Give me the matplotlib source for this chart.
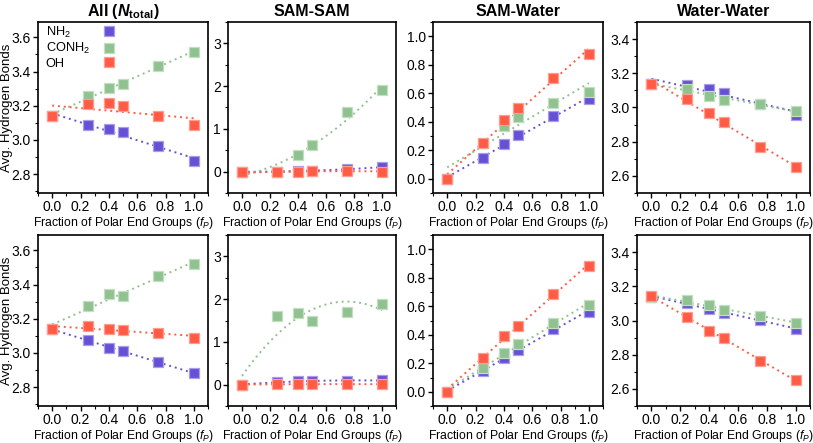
import numpy as np
import matplotlib
matplotlib.use("Agg")
import matplotlib.pyplot as plt
from matplotlib.ticker import MultipleLocator

plt.rcParams['font.family'] = ['Liberation Sans', 'DejaVu Sans']
plt.rcParams['mathtext.fontset'] = 'custom'
plt.rcParams['mathtext.rm'] = 'Liberation Sans'
plt.rcParams['mathtext.it'] = 'Liberation Sans:italic'
plt.rcParams['mathtext.bf'] = 'Liberation Sans:bold'
plt.rcParams['mathtext.bfit'] = 'Liberation Sans:bold:italic'

# fraction of polar end groups
fp = [0.0, 0.25, 0.4, 0.5, 0.75, 1.0]

series_names = ['NH$_2$', 'CONH$_2$', 'OH']
colors = ['#6651d6', '#8fc28f', '#ff5b45']
edge_colors = ['#a99de8', '#c2dfc2', '#ff9e90']

titles = [r'All ($\mathbfit{N}_{\mathbf{total}}$)', 'SAM-SAM', 'SAM-Water', 'Water-Water']

# top row
all_top_nh2 = [3.14, 3.089, 3.063, 3.044, 2.962, 2.878]
all_top_conh2 = [3.14, 3.255, 3.303, 3.329, 3.432, 3.514]
all_top_oh = [3.138, 3.21, 3.214, 3.20, 3.143, 3.087]

ss_top_nh2 = [0.0, 0.0, 0.01, 0.02, 0.07, 0.10]
ss_top_conh2 = [0.0, 0.0, 0.39, 0.625, 1.40, 1.906]
ss_top_oh = [-0.02, -0.02, 0.0, 0.01, 0.02, 0.0]

sw_top_nh2 = [0.0, 0.148, 0.244, 0.307, 0.438, 0.56]
sw_top_conh2 = [0.0, 0.25, 0.37, 0.433, 0.532, 0.609]
sw_top_oh = [0.0, 0.25, 0.41, 0.499, 0.707, 0.878]

ww_top_nh2 = [3.14, 3.134, 3.11, 3.087, 3.023, 2.959]
ww_top_conh2 = [3.14, 3.109, 3.068, 3.045, 3.02, 2.98]
ww_top_oh = [3.14, 3.051, 2.967, 2.915, 2.77, 2.652]

# bottom row
all_bot_nh2 = [3.14, 3.077, 3.028, 3.009, 2.946, 2.884]
all_bot_conh2 = [3.14, 3.274, 3.346, 3.336, 3.448, 3.518]
all_bot_oh = [3.141, 3.155, 3.141, 3.135, 3.118, 3.089]

ss_bot_nh2 = [0.0, 0.06, 0.08, 0.08, 0.09, 0.10]
ss_bot_conh2 = [0.0, 1.60, 1.68, 1.50, 1.71, 1.89]
ss_bot_oh = [0.0, 0.01, 0.01, 0.01, 0.01, 0.01]

sw_bot_nh2 = [0.0, 0.146, 0.24, 0.291, 0.437, 0.563]
sw_bot_conh2 = [0.0, 0.169, 0.275, 0.333, 0.479, 0.608]
sw_bot_oh = [0.0, 0.24, 0.392, 0.462, 0.685, 0.88]

ww_bot_nh2 = [3.14, 3.10, 3.068, 3.045, 3.004, 2.951]
ww_bot_conh2 = [3.14, 3.117, 3.088, 3.064, 3.029, 2.986]
ww_bot_oh = [3.142, 3.023, 2.937, 2.896, 2.766, 2.653]

rows = [
    [(all_top_nh2, all_top_conh2, all_top_oh), (ss_top_nh2, ss_top_conh2, ss_top_oh),
     (sw_top_nh2, sw_top_conh2, sw_top_oh), (ww_top_nh2, ww_top_conh2, ww_top_oh)],
    [(all_bot_nh2, all_bot_conh2, all_bot_oh), (ss_bot_nh2, ss_bot_conh2, ss_bot_oh),
     (sw_bot_nh2, sw_bot_conh2, sw_bot_oh), (ww_bot_nh2, ww_bot_conh2, ww_bot_oh)],
]

# panel settings: ylim, major, minor, fit degree
ylims = [(2.69, 3.69), (-0.5, 3.5), (-0.1, 1.1), (2.5, 3.5)]
ymajor = [0.2, 1.0, 0.2, 0.2]
yminor = [0.1, 0.5, 0.1, 0.1]
fit_deg = [1, 2, 1, 1]

W, H = 813, 443
fig = plt.figure(figsize=(W / 100, H / 100), dpi=100)

col_px = [(38, 208), (228, 396), (433, 603), (637, 810)]
row_px = [(22, 193), (235, 406)]

xfit = np.linspace(0, 1, 100)
legend = None

for r, (top, bot) in enumerate(row_px):
    for c, (left, right) in enumerate(col_px):
        ax = fig.add_axes([left / W, 1 - bot / H, (right - left) / W, (bot - top) / H])
        for k, ys in enumerate(rows[r][c]):
            coef = np.polyfit(fp, ys, fit_deg[c])
            ax.plot(xfit, np.polyval(coef, xfit), color=colors[k], linestyle=(0, (1, 2)),
                    linewidth=1.4, zorder=2 + k)
            ax.plot(fp, ys, 's', color=colors[k], markersize=6.8, markeredgewidth=0.9,
                    markeredgecolor=edge_colors[k], label=series_names[k], zorder=5 + k)
        ax.set_xlim(-0.1, 1.1)
        ax.set_ylim(*ylims[c])
        ax.xaxis.set_major_locator(MultipleLocator(0.2))
        ax.xaxis.set_minor_locator(MultipleLocator(0.1))
        ax.yaxis.set_major_locator(MultipleLocator(ymajor[c]))
        ax.yaxis.set_minor_locator(MultipleLocator(yminor[c]))
        if c == 1:
            ax.yaxis.set_major_formatter(plt.FormatStrFormatter('%d'))
        else:
            ax.yaxis.set_major_formatter(plt.FormatStrFormatter('%.1f'))
        ax.xaxis.set_major_formatter(plt.FormatStrFormatter('%.1f'))
        ax.tick_params(which='major', direction='out', length=3.5, width=1, labelsize=10, pad=1.5,
                       top=False, right=False)
        ax.tick_params(which='minor', direction='out', length=2, width=0.8, top=False, right=False)
        for sp in ax.spines.values():
            sp.set_linewidth(1.2)
        ax.set_xlabel('Fraction of Polar End Groups ($f_P$)', fontsize=8.8, labelpad=1)
        if c == 0:
            ax.set_ylabel('Avg. Hydrogen Bonds', fontsize=9.5)
            ax.yaxis.set_label_coords(-0.145, 0.5)
        if r == 0:
            ax.set_title(titles[c], fontsize=11.5, fontweight='bold', pad=4)
            if c == 0:
                legend = ax.legend(loc='upper left', bbox_to_anchor=(0.045, 0.985),
                                   markerfirst=False, frameon=False, fontsize=9.2,
                                   handlelength=1.0, handletextpad=1.0, labelspacing=0.12,
                                   borderaxespad=0, borderpad=0, markerscale=1.15)

# left-align legend texts while keeping the squares in one column
fig.canvas.draw()
renderer = fig.canvas.get_renderer()
text_w = [t.get_window_extent(renderer).width for t in legend.get_texts()]
legend_rows = legend._legend_handle_box.get_children()[0].get_children()
for row, w in zip(legend_rows, text_w):
    row.sep += (max(text_w) - w) * 72 / fig.dpi

fig.savefig('out.png', dpi=100)
